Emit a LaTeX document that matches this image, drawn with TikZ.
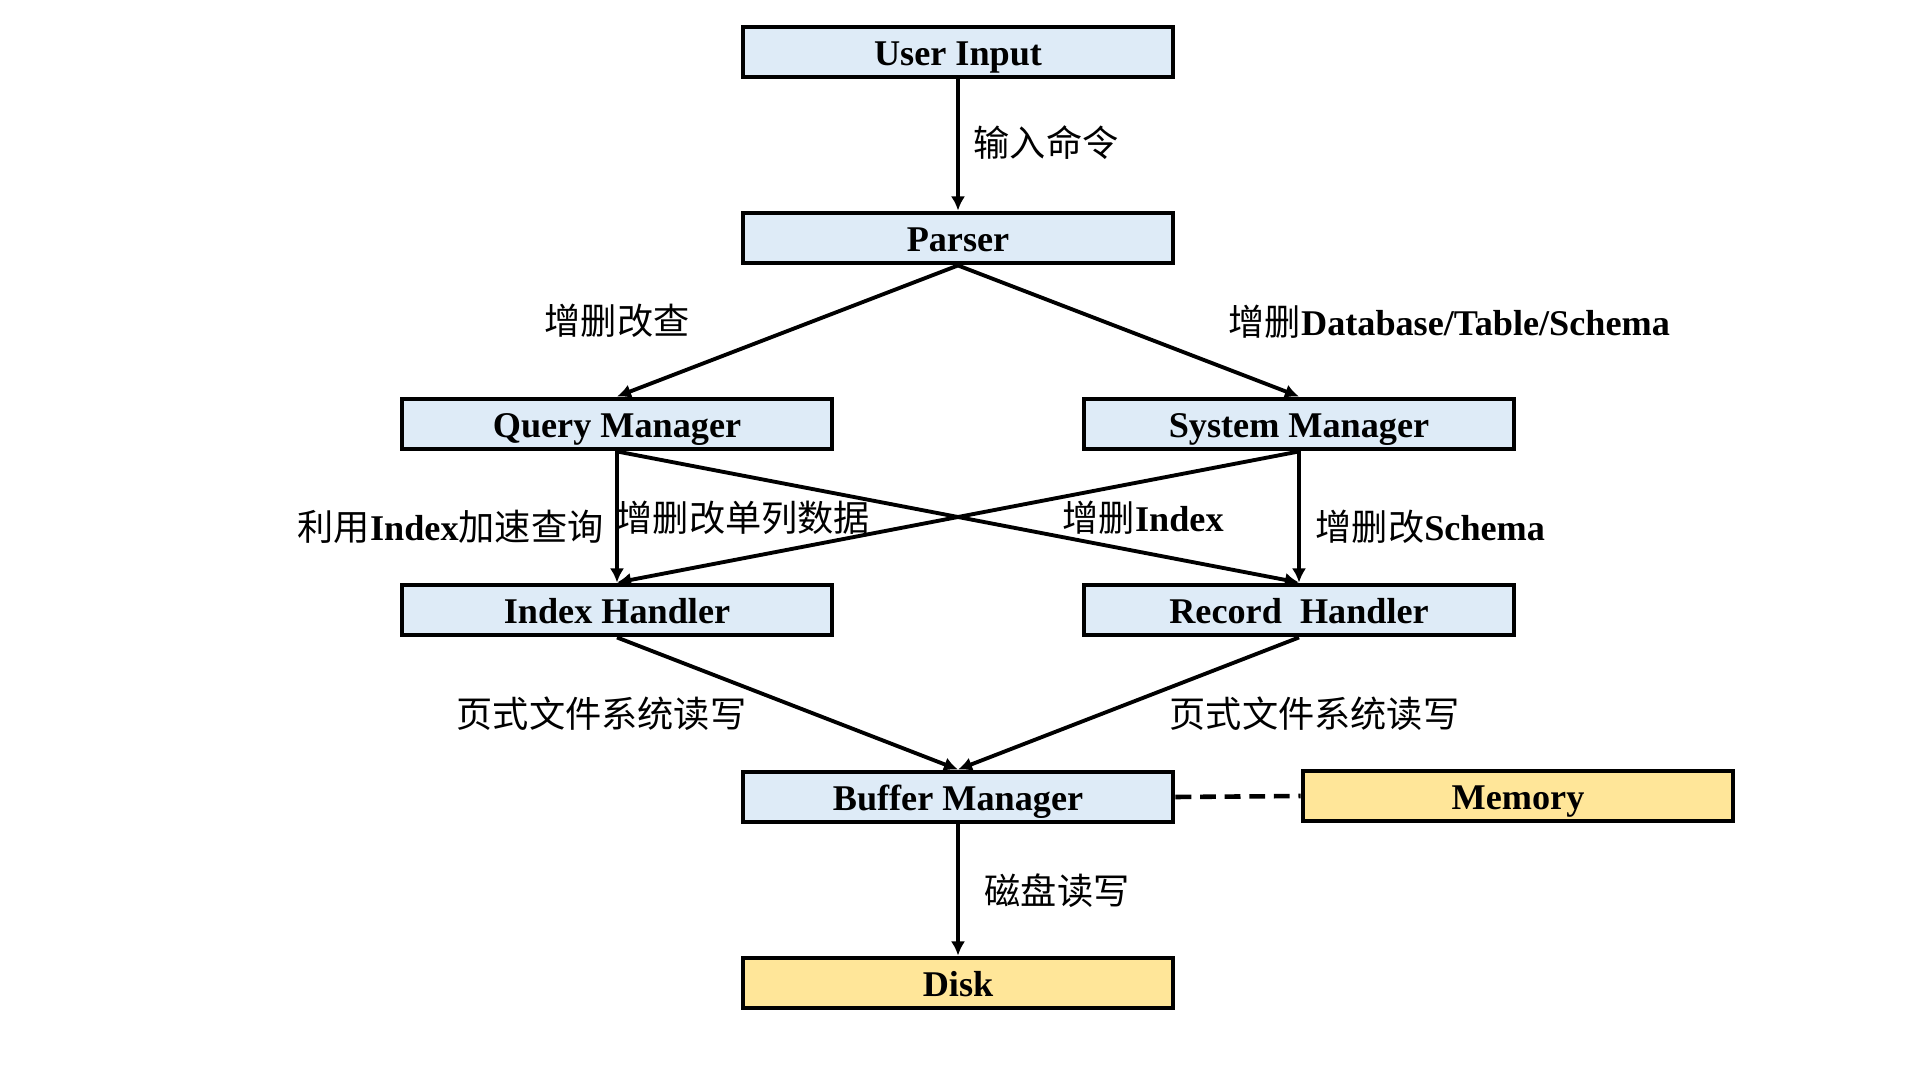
\documentclass[tikz,border=0pt]{standalone}
\usepackage{fontspec}
\setmainfont{Liberation Serif}
\newfontfamily\cjk{Noto Sans CJK SC}
\usetikzlibrary{arrows.meta}
\definecolor{boxblue}{RGB}{222,235,247}
\definecolor{boxyellow}{RGB}{255,230,153}
\newcommand{\zh}[1]{{\cjk #1}}

\begin{document}
\begin{tikzpicture}[y=-1cm, font=\fontsize{10.3}{12}\selectfont,
    module/.style={draw, line width=1.4pt, fill=boxblue, minimum width=4.3cm, minimum height=0.5cm, inner sep=0pt, text height=7.6pt, text depth=0pt, font=\fontsize{10.3}{12}\selectfont\bfseries},
    storage/.style={module, fill=boxyellow},
    note/.style={anchor=west, inner sep=0pt},
    flow/.style={line width=1.1pt, -{Latex[length=4pt,width=4pt]}}]
    \useasboundingbox (0,0) rectangle (19.2,10.8);

    % modules
    \node[module] (ui) at (9.58,0.52) {User Input};
    \node[module] (parser) at (9.58,2.38) {Parser};
    \node[module] (qm) at (6.17,4.24) {Query Manager};
    \node[module] (sm) at (12.99,4.24) {System Manager};
    \node[module] (ih) at (6.17,6.10) {Index Handler};
    \node[module] (rh) at (12.99,6.10) {Record\ \ Handler};
    \node[module] (bm) at (9.58,7.97) {Buffer Manager};
    \node[storage] (mem) at (15.18,7.96) {Memory};
    \node[storage] (disk) at (9.58,9.83) {Disk};

    % connectors
    \draw[flow] (ui.south) -- (parser.north);
    \draw[flow] (parser.south) -- (qm.north);
    \draw[flow] (parser.south) -- (sm.north);
    \draw[flow] (qm.south) -- (ih.north);
    \draw[flow] (qm.south) -- (rh.north);
    \draw[flow] (sm.south) -- (ih.north);
    \draw[flow] (sm.south) -- (rh.north);
    \draw[flow] (ih.south) -- (bm.north);
    \draw[flow] (rh.south) -- (bm.north);
    \draw[flow] (bm.south) -- (disk.north);
    \draw[line width=1.3pt, dash pattern=on 4.5pt off 2.5pt] (bm.east) -- (mem.west);

    % labels
    \node[note] (cmd) at (9.73,1.43) {\zh{输入命令}};
    \node[note] (crud) at (5.44,3.21) {\zh{增删改查}};
    \node[note] (ddl) at (12.28,3.22) {\zh{增删}\textbf{Database/Table/Schema}};
    \node[note] (useidx) at (2.97,5.27) {\zh{利用}\textbf{Index}\zh{加速查询}};
    \node[note] (rowop) at (6.16,5.18) {\zh{增删改单列数据}};
    \node[note] (addidx) at (10.62,5.18) {\zh{增删}\textbf{Index}};
    \node[note] (schema) at (13.15,5.27) {\zh{增删改}\textbf{Schema}};
    \node[note] (pfleft) at (4.56,7.14) {\zh{页式文件系统读写}};
    \node[note] (pfright) at (11.69,7.14) {\zh{页式文件系统读写}};
    \node[note] (diskio) at (9.84,8.91) {\zh{磁盘读写}};
\end{tikzpicture}
\end{document}
